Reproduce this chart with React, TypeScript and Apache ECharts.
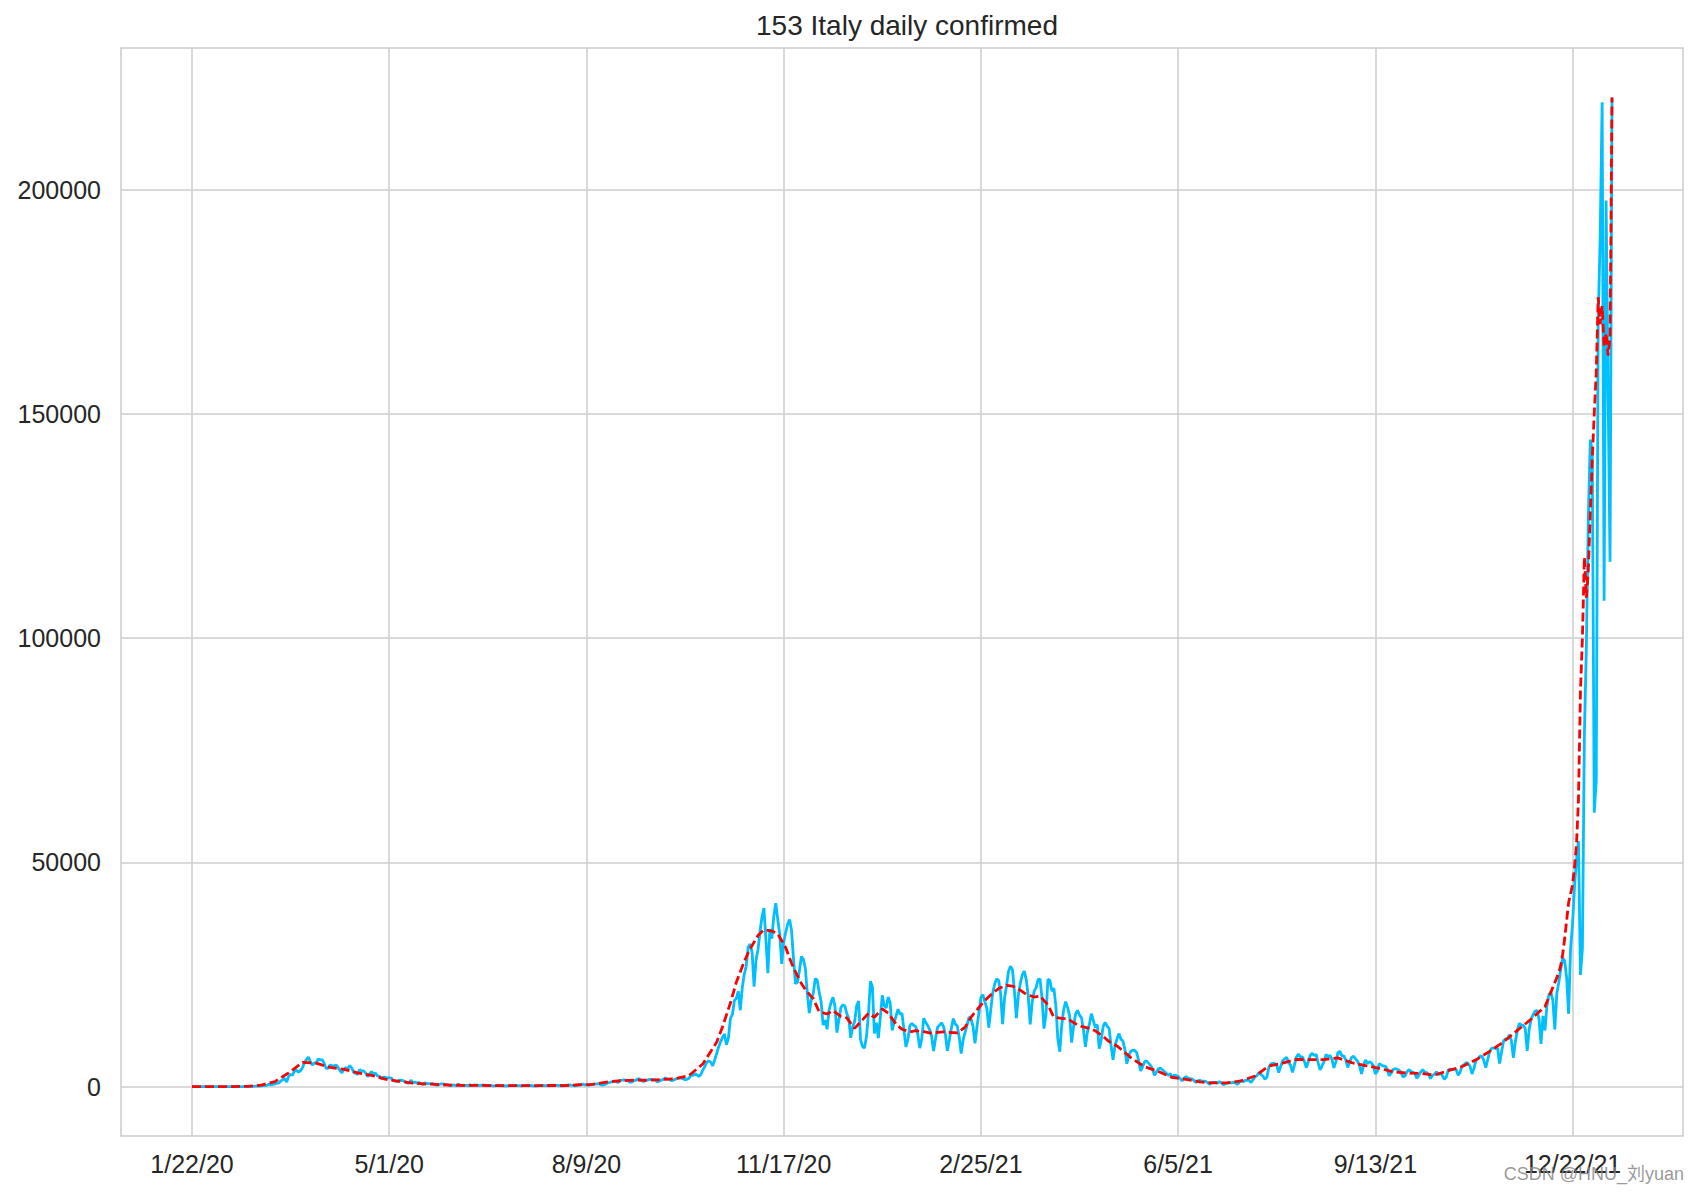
import React, { useEffect, useRef } from "react";
import * as echarts from "echarts";

// Daily confirmed cases (blue), by month, starting 1/22/20
const jan2020 = [0, 0, 0, 0, 0, 0, 0, 0, 0, 2];
const feb2020 = [0, 0, 0, 0, 0, 1, 0, 0, 0, 0, 0, 0, 0, 0, 0, 0, 0, 0, 0, 0, 17, 42, 93, 74, 93, 131, 202, 233, 240];
const mar2020 = [566, 342, 466, 587, 769, 778, 1247, 1492, 1797, 977, 2313, 2651, 2547, 3497, 3590, 3233, 3526, 4207, 5322, 5986, 6557, 5560, 4789, 5249, 5210, 6153, 5959, 5974, 5217, 4050, 4053];
const apr2020 = [4782, 4668, 4585, 4805, 4316, 3599, 3039, 3836, 4204, 3951, 4694, 4092, 3153, 2972, 2667, 3786, 3493, 3491, 3047, 2256, 2729, 3370, 2646, 3021, 2357, 2324, 1739, 2091, 2086, 1872];
const may2020 = [1965, 1900, 1389, 1221, 1075, 1444, 1401, 1327, 1083, 802, 744, 1402, 888, 992, 789, 875, 675, 451, 813, 665, 642, 652, 669, 531, 300, 397, 584, 593, 516, 416, 355];
const jun2020 = [178, 318, 321, 177, 518, 270, 197, 280, 283, 202, 379, 163, 346, 338, 301, 210, 329, 333, 251, 262, 224, 218, 122, 190, 296, 255, 175, 174, 126, 142];
const jul2020 = [187, 201, 223, 235, 192, 208, 138, 193, 229, 276, 188, 234, 169, 114, 162, 230, 233, 249, 219, 190, 129, 282, 306, 252, 275, 255, 170, 181, 212, 289, 379];
const aug2020 = [295, 239, 159, 190, 384, 402, 552, 347, 463, 259, 412, 481, 523, 574, 629, 479, 320, 403, 642, 845, 947, 1071, 1210, 1209, 878, 1367, 1411, 1462, 1444, 1365, 996];
const sep2020 = [978, 1326, 1397, 1733, 1694, 1297, 1108, 1370, 1434, 1597, 1616, 1501, 1458, 1008, 1229, 1452, 1585, 1907, 1638, 1587, 1350, 1392, 1640, 1786, 1912, 1869, 1766, 1494, 1648, 1851];
const oct2020 = [2548, 2499, 2844, 2578, 2257, 2677, 3678, 4458, 5372, 5724, 5456, 4619, 5901, 7332, 8804, 10010, 10925, 11705, 9338, 10874, 15199, 16079, 19143, 19644, 21273, 17012, 21994, 24991, 26831, 31084, 31758];
const nov2020 = [29907, 22253, 28244, 30550, 34505, 37809, 39811, 32616, 25271, 35098, 32961, 37978, 40902, 37255, 33979, 27354, 32191, 34283, 36176, 37242, 34767, 28337, 22930, 23232, 25853, 29003, 28352, 26323, 20648, 16377];
const dec2020 = [19350, 20709, 24099, 23726, 21052, 18887, 13720, 14842, 12756, 16999, 18727, 19903, 17938, 12030, 14844, 17572, 18236, 17992, 16308, 15104, 10872, 13318, 14522, 18040, 19037, 10407, 8913, 8585, 11212, 16202, 23477];
const jan2021 = [22211, 11831, 14245, 10800, 15378, 20331, 18020, 17533, 19978, 18627, 12532, 14242, 15774, 17246, 16146, 16310, 12545, 8824, 10497, 13571, 14078, 13633, 13331, 11629, 8561, 10593, 15204, 14372, 13574, 12715, 11252];
const feb2021 = [7925, 10630, 13189, 13659, 14218, 13442, 11641, 7970, 10404, 12956, 15146, 13908, 13532, 11068, 7351, 10386, 12074, 13762, 15479, 15074, 13452, 9630, 13314, 16424, 19886, 20499, 18916, 17455];
const mar2021 = [13114, 17083, 20884, 22865, 24036, 23641, 20765, 13902, 19749, 22409, 25673, 26824, 26062, 21315, 15267, 20396, 23059, 24935, 25735, 23832, 20159, 13846, 18765, 21267, 22073, 23839, 23987, 19611, 12916, 16017, 23904];
const apr2021 = [23649, 21261, 21932, 18025, 10680, 7767, 13708, 17221, 18938, 17567, 15746, 9789, 13447, 16168, 16974, 15943, 15370, 12694, 8864, 12074, 13844, 16232, 14761, 13158, 13817, 8444, 10404, 13385, 14320, 13446];
const may2021 = [12965, 9148, 5948, 9116, 10585, 11807, 10554, 10176, 8292, 5080, 6946, 7852, 8085, 8085, 7567, 5753, 3455, 4452, 5506, 5741, 5218, 4717, 3995, 2490, 3224, 3937, 4147, 3738, 3351, 2949, 2483];
const jun2021 = [2897, 1896, 2557, 2436, 2275, 1821, 1273, 1896, 2199, 1901, 1771, 1723, 1390, 907, 1255, 1400, 1197, 1197, 1148, 881, 495, 835, 952, 927, 753, 1104, 776, 389, 679, 776];
const jul2021 = [882, 794, 932, 808, 480, 907, 1394, 1010, 1394, 1400, 1391, 888, 1552, 2153, 2455, 3127, 2736, 2329, 1610, 2072, 4259, 5057, 5140, 5143, 4743, 3117, 4522, 5696, 6171, 6513, 5321];
const aug2021 = [4794, 3181, 4845, 6596, 7230, 6599, 6619, 5636, 4200, 5512, 6968, 7409, 6902, 7188, 5271, 3695, 4600, 5623, 7162, 6623, 6933, 6070, 4168, 5559, 7548, 7826, 6860, 6857, 5959, 4257, 5498];
const sep2021 = [6503, 6761, 6157, 5621, 4664, 2800, 4720, 5923, 5193, 5511, 5315, 4664, 2800, 3393, 5117, 4830, 4578, 4552, 3970, 2407, 2970, 3797, 3970, 3882, 3663, 3212, 2138, 2340, 3212, 3804];
const oct2021 = [3405, 3201, 2985, 1850, 2466, 3236, 3794, 3230, 3098, 2748, 1772, 2494, 2772, 3286, 2668, 2983, 2456, 1597, 2176, 3702, 3882, 3794, 3908, 3725, 2535, 3215, 4598, 4866, 5335, 5118, 4530];
const nov2021 = [2818, 4054, 5905, 6134, 6764, 6793, 5822, 4197, 6032, 7891, 8561, 8569, 8516, 8544, 5144, 7698, 10172, 10638, 10645, 11555, 10172, 6404, 10047, 12448, 14079, 13694, 13686, 12932, 7975, 12764];
const dec2021 = [15085, 16035, 16806, 17010, 15021, 9503, 15756, 12527, 17959, 20497, 21042, 19215, 12712, 20677, 23195, 26109, 28632, 28064, 24259, 16213, 30798, 36293, 44595, 50599, 54762, 24883, 30810, 78313, 98020, 126888, 144243];
const jan2022 = [141262, 61046, 68052, 170844, 189109, 219441, 108304, 197552, 155659, 117000, 220532];

// Smoothed line (red dashed): one value per week (days 0, 7, ..., 693)
const redWeekly = [
  0, 0, 0, 0, 46, 311, 1092, 3051, 5381, 5231,
  4256, 3843, 3067, 2507, 1644, 1172, 783, 551, 423, 292,
  277, 248, 194, 198, 200, 202, 246, 223, 403, 487,
  972, 1289, 1418, 1406, 1559, 1731, 2465, 5030, 9855, 18621,
  27867, 33666, 34660, 30995, 23701, 19576, 16171, 15629, 12959, 16306,
  17323, 13906, 12199, 12239, 12075, 12050, 13255, 17625, 20835, 22564,
  21476, 19959, 18174, 15202, 14012, 12951, 11190, 9063, 6464, 4413,
  3357, 2022, 1592, 1022, 797, 797, 1290, 2355, 4569, 5217,
  6056, 6005, 6020, 6401, 5318, 4686, 4061, 3286, 2989, 2910,
  2563, 3537, 4474, 5950, 7846, 9948, 12511, 15031, 17804, 25324,
];
// Extra mid-week values of the red line for weeks 38..66 (days 269, 276, ..., 465)
const redMidweekFirstWeek = 38;
const redMidweek = [
  13323, 23261, 30718, 34948, 34069, 27496, 21605, 16712, 16931, 15314,
  14430, 15448, 16364, 12780, 12466, 11941, 12210, 11950, 15468, 19193,
  21852, 22396, 20540, 20192, 15467, 15091, 13406, 12425, 10018,
];
// Daily values of the red line from day 694 to day 720
const redDailyTail = [
  27000, 29500, 33000, 37000, 41000, 43000, 45000, 49000, 54000, 64000,
  88000, 100000, 118000, 109000, 115000, 128000, 140000, 150000, 159000, 176000,
  170000, 174000, 165000, 168000, 163000, 167000, 220532,
];

const xTicks = [0, 100, 200, 300, 400, 500, 600, 700];
const xTickLabels = ["1/22/20", "5/1/20", "8/9/20", "11/17/20", "2/25/21", "6/5/21", "9/13/21", "12/22/21"];
const yTicks = [0, 50000, 100000, 150000, 200000];

const FONT = "'Liberation Sans', Arial, 'Noto Sans CJK SC', sans-serif";
const TEXT = "#262626";

export default function App() {
  const ref = useRef<HTMLDivElement>(null);

  useEffect(() => {
    if (!ref.current) return;
    const chart = echarts.init(ref.current, null, { renderer: "svg" });

    const blueValues = [
      ...jan2020, ...feb2020, ...mar2020, ...apr2020, ...may2020, ...jun2020,
      ...jul2020, ...aug2020, ...sep2020, ...oct2020, ...nov2020, ...dec2020,
      ...jan2021, ...feb2021, ...mar2021, ...apr2021, ...may2021, ...jun2021,
      ...jul2021, ...aug2021, ...sep2021, ...oct2021, ...nov2021, ...dec2021,
      ...jan2022,
    ];
    const blueData = blueValues.map((v, i) => [i, v]);
    const redStart = redWeekly.length * 7 - 6;
    const redData = [
      ...redWeekly.map((v, i) => [i * 7, v]),
      ...redMidweek.map((v, i) => [(redMidweekFirstWeek + i) * 7 + 3, v]),
      ...redDailyTail.map((v, i) => [redStart + i, v]),
    ].sort((a, b) => a[0] - b[0]);
    const n = blueValues.length - 1;
    const yMaxData = Math.max(...blueValues, ...redDailyTail);

    chart.setOption({
      animation: false,
      backgroundColor: "#ffffff",
      title: {
        text: "153 Italy daily confirmed",
        left: 902,
        top: 6,
        textAlign: "center",
        textStyle: { fontFamily: FONT, fontSize: 28, fontWeight: "normal", color: TEXT },
      },
      grid: {
        left: 121,
        right: 15,
        top: 48,
        bottom: 57,
        show: true,
        borderColor: "#cccccc",
        borderWidth: 1.5,
        backgroundColor: "transparent",
      },
      xAxis: {
        type: "value",
        min: -0.05 * n,
        max: 1.05 * n,
        axisLine: { show: false },
        axisTick: { show: false, customValues: xTicks },
        axisLabel: {
          customValues: xTicks,
          formatter: (v: number) => {
            const k = xTicks.indexOf(Math.round(v));
            return k >= 0 ? xTickLabels[k] : "";
          },
          fontFamily: FONT,
          fontSize: 25,
          color: TEXT,
          margin: 15,
        },
        splitLine: { show: true, lineStyle: { color: "#cccccc", width: 1.5 } },
      },
      yAxis: {
        type: "value",
        min: -0.05 * yMaxData,
        max: 1.05 * yMaxData,
        axisLine: { show: false },
        axisTick: { show: false, customValues: yTicks },
        axisLabel: {
          customValues: yTicks,
          formatter: (v: number) => String(Math.round(v)),
          fontFamily: FONT,
          fontSize: 25,
          color: TEXT,
          margin: 20,
        },
        splitLine: { show: true, lineStyle: { color: "#cccccc", width: 1.5 } },
      },
      series: [
        {
          type: "line",
          data: blueData,
          showSymbol: false,
          symbol: "none",
          lineStyle: { color: "#00bfff", width: 2.8 },
          silent: true,
          z: 2,
        },
        {
          type: "line",
          data: redData,
          showSymbol: false,
          symbol: "none",
          lineStyle: { color: "#ff0000", width: 2.8, type: [9, 4] },
          silent: true,
          z: 3,
        },
      ],
      graphic: [
        {
          type: "text",
          right: 14,
          top: 1165,
          z: 100,
          style: {
            text: "CSDN @HNU_刘yuan",
            fontFamily: FONT,
            fontSize: 18,
            fill: "rgba(135,135,135,0.85)",
          },
        },
      ],
    });

    return () => chart.dispose();
  }, []);

  return (
    <div
      ref={ref}
      style={{ position: "absolute", left: 0, top: 0, width: 1698, height: 1193 }}
    />
  );
}
